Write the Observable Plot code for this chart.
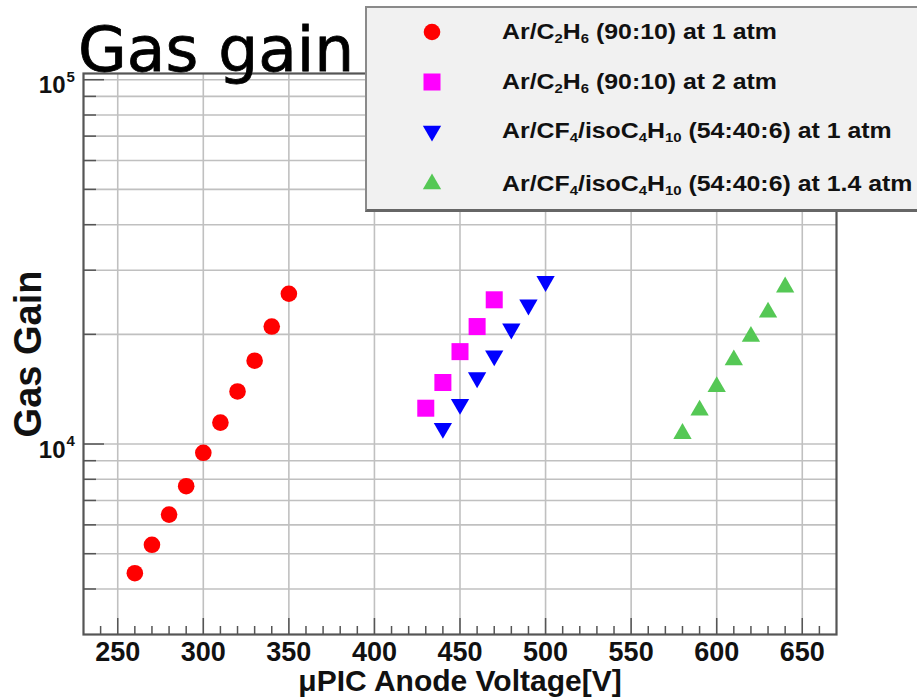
<!DOCTYPE html>
<html><head><meta charset="utf-8">
<script src="https://cdn.jsdelivr.net/npm/d3@7"></script>
<script src="https://cdn.jsdelivr.net/npm/@observablehq/plot@0.6"></script>
<style>
html,body{margin:0;padding:0;background:#fff;}
#wrap{position:relative;width:917px;height:697px;overflow:hidden;}
#chart{position:absolute;left:0;top:0;}
#title{position:absolute;left:78px;top:19px;font-family:"DejaVu Sans",sans-serif;font-size:63px;line-height:62px;color:#000;white-space:nowrap;-webkit-text-stroke:0.8px #000;}
#legend{position:absolute;left:365px;top:6px;width:570px;height:206px;box-sizing:border-box;background:#f1f1f1;border-left:2px solid #8a8a8a;border-top:2px solid #8a8a8a;border-bottom:3px solid #666;}
.lrow{position:absolute;left:135px;height:30px;line-height:30px;font-family:"Liberation Sans",Arial,sans-serif;font-weight:bold;font-size:22px;color:#111;white-space:nowrap;transform:scaleX(1.13);transform-origin:left center;}
.lrow sub{font-size:0.6em;vertical-align:-0.3em;line-height:0;}
.lmark{position:absolute;width:30px;height:30px;}
</style></head><body>
<div id="wrap"><div id="chart"></div><div id="title">Gas gain</div><div id="legend"></div></div>
<script>
// ---- data ----
const voltAr1 = [260, 270, 280, 290, 300, 310, 320, 330, 340, 350];
const gainAr1 = [4420, 5290, 6400, 7660, 9460, 11450, 13940, 16930, 21010, 25850];
const voltAr2 = [430, 440, 450, 460, 470];
const gainAr2 = [12540, 14750, 17930, 21010, 24880];
const voltCF1 = [440, 450, 460, 470, 480, 490, 500];
const gainCF1 = [11050, 12860, 15220, 17470, 20700, 24100, 27950];
const voltCF14 = [580, 590, 600, 610, 620, 630, 640];
const gainCF14 = [10680, 12380, 14360, 17010, 19720, 22990, 26960];

const seriesLabels = [
  "Ar/C<sub>2</sub>H<sub>6</sub> (90:10) at 1 atm",
  "Ar/C<sub>2</sub>H<sub>6</sub> (90:10) at 2 atm",
  "Ar/CF<sub>4</sub>/isoC<sub>4</sub>H<sub>10</sub> (54:40:6) at 1 atm",
  "Ar/CF<sub>4</sub>/isoC<sub>4</sub>H<sub>10</sub> (54:40:6) at 1.4 atm"
];
const seriesColors = ["#ff0000", "#ff00ff", "#0000ff", "#55c855"];

const xTickLabels = [250, 300, 350, 400, 450, 500, 550, 600, 650];
const yTickValues = [1e4, 1e5];
const yTickExponents = ["4", "5"];
const xTitle = "\u03bcPIC Anode Voltage[V]";
const yTitle = "Gas Gain";

// ---- layout ----
const W = 917, H = 697;
const mL = 83, mR = 81, mT = 73, mB = 63;
const innerW = W - mL - mR, innerH = H - mT - mB;

const xMinor = d3.range(240, 670, 10).filter(v => !xTickLabels.includes(v));
const yGrid = [4000, 5000, 6000, 7000, 8000, 9000, 10000, 20000, 30000, 40000, 50000, 60000, 70000, 80000, 90000, 100000];
const yMinor = yGrid.filter(v => !yTickValues.includes(v));

const triangleDown = {
  draw(ctx, size) {
    const y = Math.sqrt(size / (Math.sqrt(3) * 3));
    ctx.moveTo(0, 2 * y);
    ctx.lineTo(-Math.sqrt(3) * y, -y);
    ctx.lineTo(Math.sqrt(3) * y, -y);
    ctx.closePath();
  }
};

const rows = (vs, gs) => vs.map((v, i) => ({v, g: gs[i]}));
const sym = [
  {symbol: "circle", r: 8.3},
  {symbol: "square", r: 9.6},
  {symbol: triangleDown, r: 6.8},
  {symbol: "triangle", r: 6.8}
];
const series = [rows(voltAr1, gainAr1), rows(voltAr2, gainAr2), rows(voltCF1, gainCF1), rows(voltCF14, gainCF14)];

const bold = "'Liberation Sans', Arial, Helvetica, sans-serif";
const narrow = "'Liberation Sans Narrow', 'Arial Narrow', 'Liberation Sans', Arial, sans-serif";
const gridC = "#c0c0c0", tickC = "#555";

const plot = Plot.plot({
  width: W, height: H,
  marginLeft: mL, marginRight: mR, marginTop: mT, marginBottom: mB,
  x: {domain: [230, 670], axis: null},
  y: {type: "log", domain: [3000, 104000], axis: null},
  style: {background: "transparent", overflow: "visible"},
  marks: [
    Plot.ruleX(xTickLabels, {stroke: gridC, strokeWidth: 1.6}),
    Plot.ruleY(yGrid, {stroke: gridC, strokeWidth: 1.6}),
    Plot.ruleX(xMinor, {insetTop: innerH - 8, stroke: tickC, strokeWidth: 1.5}),
    Plot.ruleX(xTickLabels, {insetTop: innerH - 16, stroke: tickC, strokeWidth: 1.5}),
    Plot.ruleY(yMinor, {insetRight: innerW - 13, stroke: tickC, strokeWidth: 1.5}),
    Plot.ruleY(yTickValues, {insetRight: innerW - 21, stroke: tickC, strokeWidth: 1.5}),
    Plot.frame({stroke: "#555", strokeWidth: 2.2}),
    ...series.map((s, i) => Plot.dot(s, {x: "v", y: "g", fill: seriesColors[i], stroke: "none", symbol: sym[i].symbol, r: sym[i].r})),
    Plot.text(xTickLabels, {x: d => d, frameAnchor: "bottom", lineAnchor: "middle", textAnchor: "middle", dy: 18, text: d => String(d), fontSize: 27, fontWeight: "bold", fontFamily: narrow, fill: "#111"}),
    Plot.text(yTickValues, {y: d => d, frameAnchor: "left", lineAnchor: "middle", dx: -18, dy: 6, textAnchor: "end", text: () => "10", fontSize: 24, fontWeight: "bold", fontFamily: bold, fill: "#111"}),
    Plot.text(yTickValues, {y: d => d, frameAnchor: "left", lineAnchor: "middle", dx: -17, dy: -3, textAnchor: "start", text: (d, i) => yTickExponents[i], fontSize: 15, fontWeight: "bold", fontFamily: bold, fill: "#111"}),
    Plot.text([xTitle], {frameAnchor: "bottom", lineAnchor: "middle", textAnchor: "middle", dy: 47, text: d => d, fontSize: 30, fontWeight: "bold", fontFamily: bold, fill: "#111"}),
    Plot.text([yTitle], {frameAnchor: "left", lineAnchor: "middle", textAnchor: "middle", dx: -55, rotate: -90, text: d => d, fontSize: 38, fontWeight: "bold", fontFamily: bold, fill: "#111"})
  ]
});
document.getElementById("chart").appendChild(plot);

// ---- legend ----
const legend = document.getElementById("legend");
const rowY = [32, 82, 131, 184]; // centers relative to page
const boxTop = 6 + 2;
seriesLabels.forEach((lab, i) => {
  const cy = rowY[i] - boxTop;
  const m = document.createElement("div");
  m.className = "lmark";
  m.style.left = (432 - 365 - 2 - 15) + "px";
  m.style.top = (cy - 15) + "px";
  const s = d3.create("svg").attr("width", 30).attr("height", 30);
  const symType = typeof sym[i].symbol === "string"
    ? {circle: d3.symbolCircle, square: d3.symbolSquare, triangle: d3.symbolTriangle}[sym[i].symbol]
    : sym[i].symbol;
  s.append("path").attr("transform", "translate(15,15)")
    .attr("d", d3.symbol(symType, Math.PI * sym[i].r * sym[i].r)())
    .attr("fill", seriesColors[i]);
  m.appendChild(s.node());
  legend.appendChild(m);
  const t = document.createElement("div");
  t.className = "lrow";
  t.style.top = (cy - 15) + "px";
  t.innerHTML = lab;
  legend.appendChild(t);
});
</script>
</body></html>
